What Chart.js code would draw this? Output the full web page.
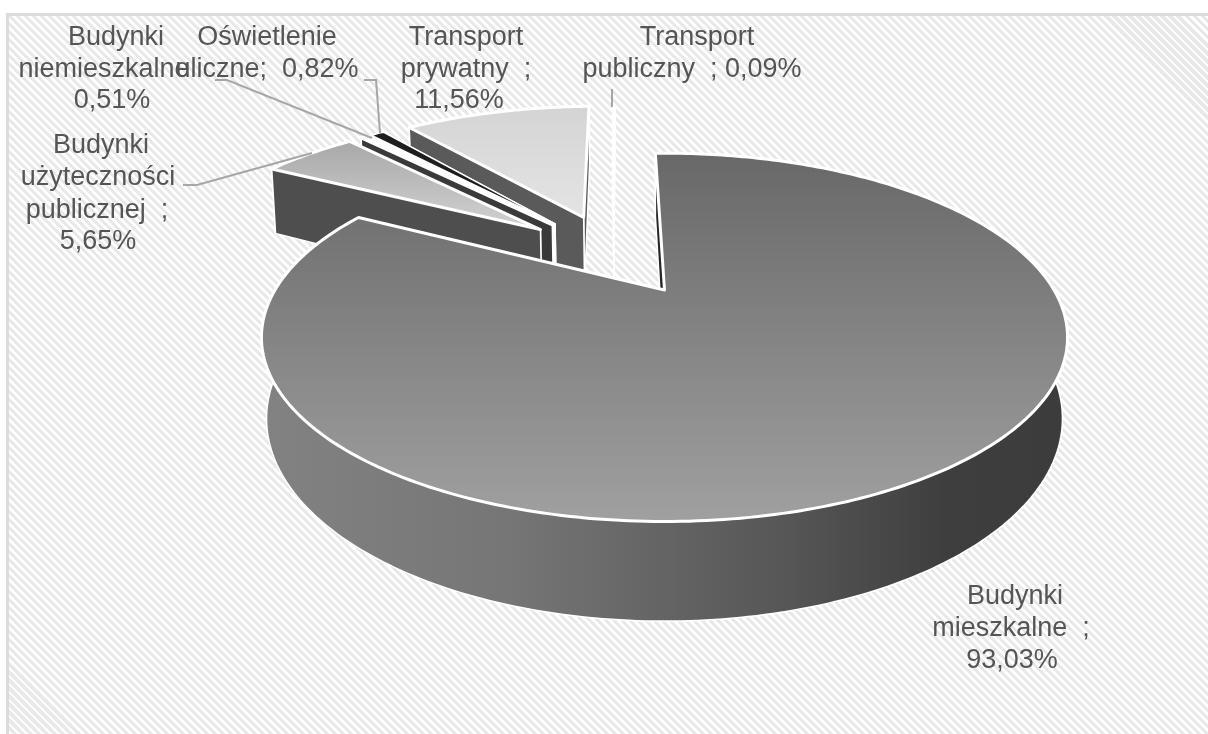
<!DOCTYPE html>
<html>
<head>
<meta charset="utf-8">
<script src="https://cdn.jsdelivr.net/npm/chart.js@4/dist/chart.umd.min.js"></script>
<style>
html,body{margin:0;padding:0;background:#fff;width:1208px;height:734px;overflow:hidden}
#panel{position:absolute;left:6px;top:13px;width:1202px;height:721px;box-sizing:border-box;
  border-left:3px solid #dcdcdc;border-top:3px solid #dcdcdc;
  background:repeating-linear-gradient(45deg,#fff 0,#fff 2.8px,#e8e8e8 2.8px,#e8e8e8 5.66px)}
canvas{position:absolute;left:0;top:0}
</style>
</head>
<body>
<div id="panel"></div>
<canvas id="chart" width="1208" height="734"></canvas>
<script>
const categories = ["Budynki mieszkalne","Budynki użyteczności publicznej","Budynki niemieszkalne","Oświetlenie uliczne","Transport prywatny","Transport publiczny"];
const shares = [93.03,5.65,0.51,0.82,11.56,0.09];

// top face gradient (far edge, near edge) and wall colour per slice
const topFar = ["#686868","#a8a8a8","#ffffff","#1e1e1e","#d4d4d4","#ffffff"];
const topNear = ["#a0a0a0","#d2d2d2","#ffffff","#1e1e1e","#e4e4e4","#ffffff"];
const wallColors = ["#262626","#4e4e4e","#3a3a3a","#ffffff","#5a5a5a","#ffffff"];
const drawOrder = [5,4,3,2,1,0];

const labels = [
  {cx:[1015,1011,1012],y:[604,636,668],t:["Budynki","mieszkalne  ;","93,03%"]},
  {cx:[101,98,97,98],y:[153,185,218,249],t:["Budynki","użyteczności","publicznej  ;","5,65%"]},
  {cx:[116,104,112],y:[45,77,108],t:["Budynki","niemieszkalne","0,51%"]},
  {cx:[267,267],y:[45,77],t:["Oświetlenie","uliczne;  0,82%"]},
  {cx:[466,466,459],y:[45,77,108],t:["Transport","prywatny  ;","11,56%"]},
  {cx:[697,692],y:[45,77],t:["Transport","publiczny  ; 0,09%"]}
];
const leaders = [
  [[183,185],[197,185],[312,153]],
  [[215,80],[227,80],[372,138]],
  [[364,80],[376,80],[380,133]],
  [[612,89],[612,107]]
];

// perspective of the tilted pie, fitted on the big slice
const APEX_X = 664.5, APEX_Y = 290;
const SCALE_X = 389.5, SCALE_Y = 172, TILT = 0.257, DEPTH_W = 0.012, DEPTH_Y = 78;
const EXPLODE = 0.265;

function project(u,v,z){
  const w = 1 - TILT*v + DEPTH_W*z;
  return [APEX_X + SCALE_X*u/w, APEX_Y + (SCALE_Y*v + DEPTH_Y*z)/w];
}

function path(ctx,pts){
  ctx.beginPath();
  pts.forEach((p,i)=> i ? ctx.lineTo(p[0],p[1]) : ctx.moveTo(p[0],p[1]));
  ctx.closePath();
}

function paint(ctx,pts,fill,lw){
  path(ctx,pts);
  ctx.fillStyle = fill;
  ctx.fill();
  ctx.lineWidth = lw;
  ctx.strokeStyle = "#ffffff";
  ctx.stroke();
}

const pie3d = {
  id:"pie3d",
  beforeDatasetDraw(chart){
    const ctx = chart.ctx, arcs = chart.getDatasetMeta(0).data;
    const mid = a => (a.startAngle+a.endAngle)/2;
    const m0 = mid(arcs[0]);
    ctx.save();
    ctx.lineJoin = "round";
    drawOrder.forEach(i=>{
      const a = arcs[i], m = mid(a);
      const ox = EXPLODE*(Math.cos(m)-Math.cos(m0)), oy = EXPLODE*(Math.sin(m)-Math.sin(m0));
      const steps = Math.max(2,Math.ceil((a.endAngle-a.startAngle)*60));
      const rimT = [], rimB = [];
      for(let s=0;s<=steps;s++){
        const t = a.startAngle+(a.endAngle-a.startAngle)*s/steps;
        rimT.push(project(ox+Math.cos(t),oy+Math.sin(t),0));
        rimB.push(project(ox+Math.cos(t),oy+Math.sin(t),1));
      }
      const apexT = project(ox,oy,0), apexB = project(ox,oy,1);
      let outer = wallColors[i];
      if(i===0){
        outer = ctx.createLinearGradient(265,0,1068,0);
        outer.addColorStop(0,"#828282");
        outer.addColorStop(0.3,"#767676");
        outer.addColorStop(0.65,"#565656");
        outer.addColorStop(0.85,"#3e3e3e");
        outer.addColorStop(1,"#3c3c3c");
      }
      // back wall first, then the two cut faces, the lower one last
      paint(ctx,rimT.concat(rimB.slice().reverse()),outer,1.5);
      paint(ctx,[apexT,rimT[steps],rimB[steps],apexB],wallColors[i],1.5);
      paint(ctx,[apexT,rimT[0],rimB[0],apexB],wallColors[i],1.5);
      const ys = rimT.concat([apexT]).map(p=>p[1]);
      const g = ctx.createLinearGradient(0,Math.min(...ys),0,Math.max(...ys));
      g.addColorStop(0,topFar[i]);
      g.addColorStop(1,topNear[i]);
      paint(ctx,[apexT].concat(rimT),g,i===3 ? 1.5 : 3);
    });
    ctx.restore();
    return false;
  },
  afterDatasetsDraw(chart){
    const ctx = chart.ctx;
    ctx.save();
    ctx.strokeStyle = "#a6a6a6";
    ctx.lineWidth = 2;
    leaders.forEach(l=>{
      ctx.beginPath();
      l.forEach((p,i)=> i ? ctx.lineTo(p[0],p[1]) : ctx.moveTo(p[0],p[1]));
      ctx.stroke();
    });
    ctx.fillStyle = "#555555";
    ctx.font = '27px "Liberation Sans", Arial, sans-serif';
    ctx.textAlign = "center";
    ctx.textBaseline = "alphabetic";
    labels.forEach(l=> l.t.forEach((s,i)=> ctx.fillText(s,l.cx[i],l.y[i])));
    ctx.restore();
  }
};

new Chart(document.getElementById("chart"),{
  type:"pie",
  data:{ labels:categories, datasets:[{ data:shares }] },
  options:{
    responsive:false,
    animation:false,
    rotation:-1.7,
    plugins:{ legend:{display:false}, tooltip:{enabled:false} }
  },
  plugins:[pie3d]
});
</script>
</body>
</html>
